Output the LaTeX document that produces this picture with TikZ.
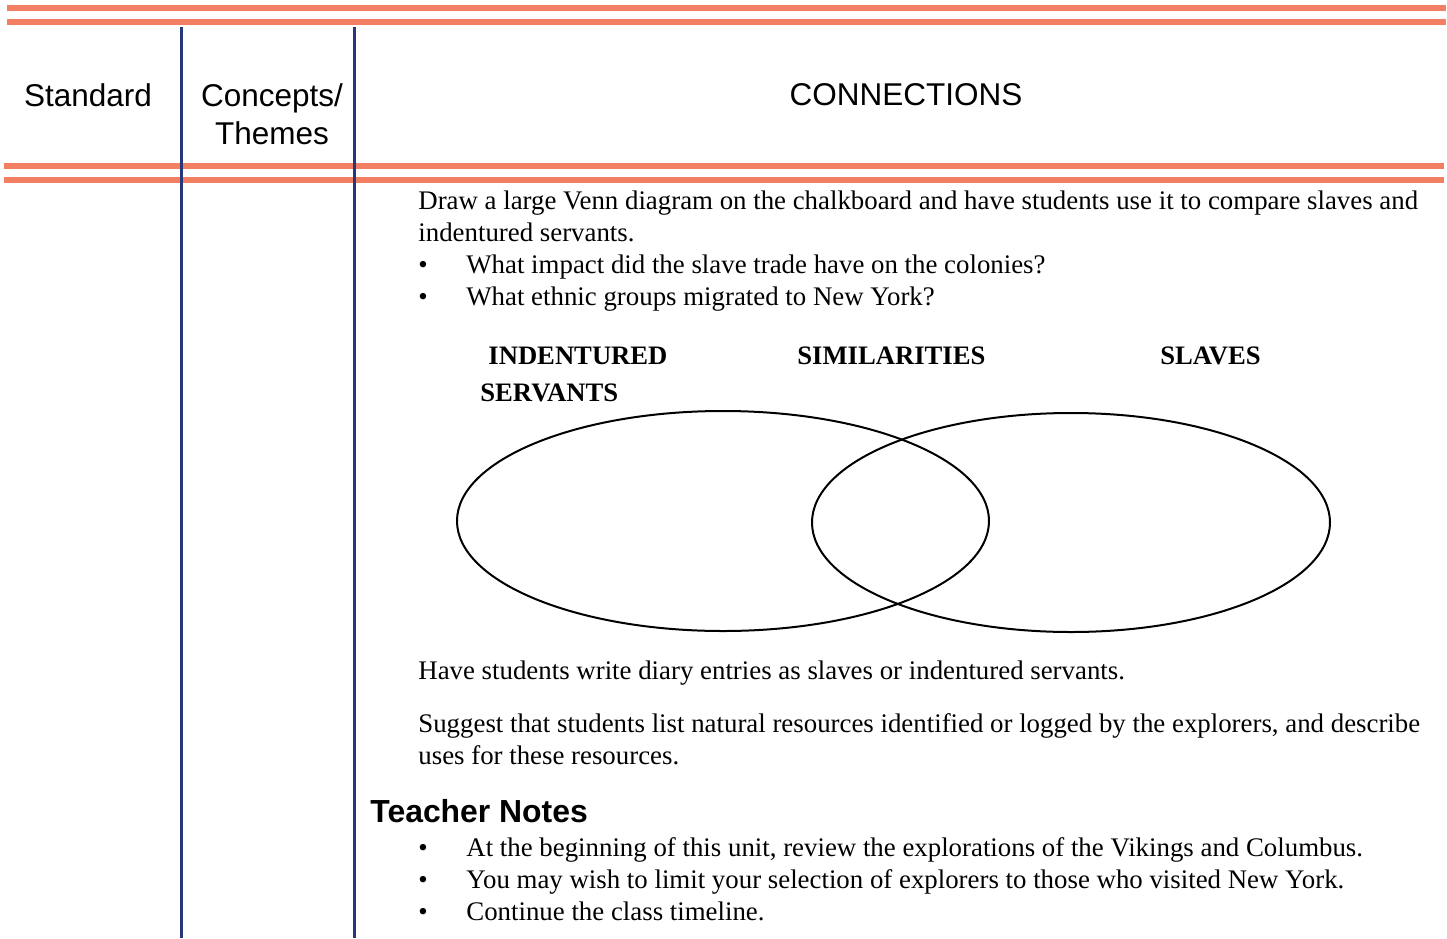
\documentclass[tikz,border=0pt]{standalone}
\usepackage{fontspec}
\setmainfont{Liberation Serif}
\newfontfamily\hsans{Liberation Sans}
\usetikzlibrary{shapes.geometric}
\definecolor{rulecol}{RGB}{243,127,99}
\definecolor{navycol}{RGB}{38,56,122}
\begin{document}
\begin{tikzpicture}[x=0.5pt,y=-0.5pt,
 body/.style={anchor=base west,inner sep=0pt,font=\fontsize{13.42}{16}\selectfont},
 head/.style={anchor=base,inner sep=0pt,font=\hsans\fontsize{15.75}{19}\selectfont},
 notes/.style={anchor=base west,inner sep=0pt,font=\hsans\bfseries\fontsize{15.95}{19}\selectfont},
 vlab/.style={anchor=base west,inner sep=0pt,font=\bfseries\fontsize{13.32}{15}\selectfont},
 bul/.style={anchor=base west,inner sep=0pt,font=\fontsize{13.42}{16}\selectfont},
 hrule/.style={draw=rulecol,line width=3pt},
 vrule/.style={draw=navycol,line width=1.5pt},
 venn/.style={ellipse,draw,line width=1pt,inner sep=0pt,outer sep=0pt}]
\useasboundingbox (0,0) rectangle (1447,938);
% horizontal rules
\coordinate (t1a) at (7,8);   \coordinate (t1b) at (1446,8);
\coordinate (t2a) at (7,22);  \coordinate (t2b) at (1446,22);
\coordinate (b1a) at (4,166); \coordinate (b1b) at (1444,166);
\coordinate (b2a) at (4,180); \coordinate (b2b) at (1444,180);
\draw[hrule] (t1a) -- (t1b);
\draw[hrule] (t2a) -- (t2b);
\draw[hrule] (b1a) -- (b1b);
\draw[hrule] (b2a) -- (b2b);
% vertical rules
\coordinate (v1a) at (181,27); \coordinate (v1b) at (181,938);
\coordinate (v2a) at (354,27); \coordinate (v2b) at (354,938);
\draw[vrule] (v1a) -- (v1b);
\draw[vrule] (v2a) -- (v2b);
% header
\node[head] (hstd) at (88,106) {Standard};
\node[head] (hcon1) at (272,106) {Concepts/};
\node[head] (hcon2) at (272,144) {Themes};
\node[head] (hconn) at (906,105) {CONNECTIONS};
% body text
\node[body] (p1a) at (418,209) {Draw a large Venn diagram on the chalkboard and have students use it to compare slaves and};
\node[body] (p1b) at (418,241) {indentured servants.};
\node[bul] (b1) at (418,273) {\textbullet};
\node[body] (q1) at (466,273) {What impact did the slave trade have on the colonies?};
\node[bul] (b2) at (418,305) {\textbullet};
\node[body] (q2) at (466,305) {What ethnic groups migrated to New York?};
% venn labels
\node[vlab] (lind) at (488,364) {INDENTURED};
\node[vlab] (lser) at (480,401) {SERVANTS};
\node[vlab] (lsim) at (797,364) {SIMILARITIES};
\node[vlab] (lsla) at (1160,364) {SLAVES};
% venn
\node[venn,minimum width=266pt,minimum height=110pt] (eleft) at (723,521) {};
\node[venn,minimum width=259pt,minimum height=109.5pt] (eright) at (1071,522.5) {};
% more text
\node[body] (p2) at (418,679) {Have students write diary entries as slaves or indentured servants.};
\node[body] (p3a) at (418,732) {Suggest that students list natural resources identified or logged by the explorers, and describe};
\node[body] (p3b) at (418,764) {uses for these resources.};
% teacher notes
\node[notes] (tn) at (370,822) {Teacher Notes};
\node[bul] (n1) at (418,856) {\textbullet};
\node[body] (t1) at (466,856) {At the beginning of this unit, review the explorations of the Vikings and Columbus.};
\node[bul] (n2) at (418,888) {\textbullet};
\node[body] (t2) at (466,888) {You may wish to limit your selection of explorers to those who visited New York.};
\node[bul] (n3) at (418,920) {\textbullet};
\node[body] (t3) at (466,920) {Continue the class timeline.};
\end{tikzpicture}
\end{document}
